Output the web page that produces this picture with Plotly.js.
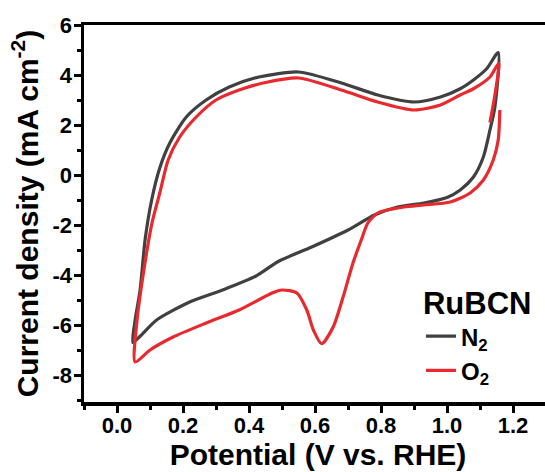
<!DOCTYPE html>
<html>
<head>
<meta charset="utf-8">
<script src="https://cdn.plot.ly/plotly-3.0.1.min.js"></script>
<style>
html,body{margin:0;padding:0;overflow:hidden;background:#fff;width:545px;height:472px;}
#chart{width:552px;height:472px;}
</style>
</head>
<body>
<div id="chart"></div>
<script>
// N2 cycle: anodic sweep from 0.05 V to 1.155 V, then cathodic back
const n2Potential = [0.048, 0.055, 0.07, 0.085, 0.105, 0.13, 0.16, 0.21, 0.27, 0.34, 0.43, 0.55, 0.68, 0.79, 0.90, 0.98, 1.04, 1.08, 1.12, 1.155,
                     1.145, 1.13, 1.11, 1.08, 1.04, 1.0, 0.93, 0.85, 0.78, 0.70, 0.59, 0.49, 0.42, 0.32, 0.22, 0.12, 0.07, 0.048];
const n2Current   = [-6.7, -5.8, -4.6, -2.6, -1.0, 0.3, 1.28, 2.32, 3.0, 3.52, 3.92, 4.12, 3.68, 3.2, 2.92, 3.12, 3.45, 3.8, 4.25, 4.9,
                     2.72, 1.8, 0.72, -0.08, -0.6, -0.9, -1.12, -1.28, -1.6, -2.2, -2.88, -3.45, -4.05, -4.6, -5.08, -5.8, -6.45, -6.7];
// O2 cycle: starts near 1.16 V, cathodic sweep (ORR peak), anodic sweep, back to 1.13 V
const o2Potential = [1.16, 1.155, 1.14, 1.11, 1.07, 1.01, 0.93, 0.87, 0.82, 0.79, 0.76, 0.74, 0.715, 0.685, 0.655, 0.62, 0.595, 0.575, 0.545, 0.50, 0.47, 0.37, 0.27, 0.17, 0.10, 0.055,
                     0.06, 0.08, 0.106, 0.13, 0.155, 0.19, 0.24, 0.30, 0.37, 0.45, 0.55, 0.68, 0.79, 0.90, 0.98, 1.04, 1.08, 1.13, 1.157, 1.145, 1.13];
const o2Current   = [2.6, 1.4, 0.6, -0.2, -0.72, -1.08, -1.2, -1.28, -1.4, -1.52, -1.92, -2.6, -3.52, -4.88, -6.08, -6.75, -6.2, -5.4, -4.72, -4.6, -4.72, -5.4, -5.92, -6.48, -7.0, -7.48,
                     -5.9, -3.92, -1.92, -0.7, 0.6, 1.52, 2.32, 3.0, 3.4, 3.7, 3.88, 3.4, 2.92, 2.6, 2.8, 3.2, 3.45, 3.92, 4.48, 3.2, 2.1];

const seriesNames = ['N<sub>2</sub>', 'O<sub>2</sub>'];
const legendTitle = 'RuBCN';
const yTickVals = [-8, -6, -4, -2, 0, 2, 4, 6];
const yTickText = ['-8', '-6', '-4', '-2', '0', '2', '4', '6'];
const xTickVals = [0.0, 0.2, 0.4, 0.6, 0.8, 1.0, 1.2];
const xTickText = ['0.0', '0.2', '0.4', '0.6', '0.8', '1.0', '1.2'];

const FONT = 'Liberation Sans, Arial, sans-serif';

const traces = [
  {x: n2Potential, y: n2Current, name: seriesNames[0], mode: 'lines',
   line: {color: '#404040', width: 3.2, shape: 'spline', smoothing: 0.7}},
  {x: o2Potential, y: o2Current, name: seriesNames[1], mode: 'lines',
   line: {color: '#e8292d', width: 3.2, shape: 'spline', smoothing: 0.7}}
];

const layout = {
  width: 552, height: 472,
  margin: {l: 84, r: 0, t: 25, b: 70},
  paper_bgcolor: '#fff', plot_bgcolor: '#fff',
  font: {family: FONT, color: '#000', weight: 'bold'},
  showlegend: true,
  legend: {
    x: 0.72, y: 0.34, xanchor: 'left', yanchor: 'top',
    bgcolor: 'rgba(0,0,0,0)',
    font: {family: FONT, size: 24, color: '#000', weight: 'bold'},
    title: {text: legendTitle, side: 'top', font: {family: FONT, size: 31, color: '#000', weight: 'bold'}}
  },
  xaxis: {
    range: [-0.1, 1.318], showgrid: false, zeroline: false,
    showline: true, linewidth: 3.5, linecolor: '#000', mirror: true,
    ticks: 'outside', ticklen: 7, tickwidth: 3, tickcolor: '#000',
    tickvals: xTickVals, ticktext: xTickText, ticklabelstandoff: -6,
    tickfont: {family: FONT, size: 22, color: '#000', weight: 'bold'},
    minor: {dtick: 0.1, tick0: 0, ticks: 'outside', ticklen: 4, tickwidth: 3, tickcolor: '#000'},
    title: {text: 'Potential (V vs. RHE)', standoff: 6, font: {family: FONT, size: 30, color: '#000', weight: 'bold'}}
  },
  yaxis: {
    range: [-9.08, 6], showgrid: false, zeroline: false,
    showline: true, linewidth: 3.5, linecolor: '#000', mirror: false,
    ticks: 'outside', ticklen: 7, tickwidth: 3, tickcolor: '#000',
    tickvals: yTickVals, ticktext: yTickText, ticklabelstandoff: -3,
    tickfont: {family: FONT, size: 22, color: '#000', weight: 'bold'},
    minor: {dtick: 1, tick0: 0, ticks: 'outside', ticklen: 4, tickwidth: 3, tickcolor: '#000'},
    title: {text: 'Current density (mA cm<sup>-2</sup>)', standoff: 6, font: {family: FONT, size: 30, color: '#000', weight: 'bold'}}
  }
};

Plotly.newPlot('chart', traces, layout, {displayModeBar: false, staticPlot: true});
</script>
</body>
</html>
